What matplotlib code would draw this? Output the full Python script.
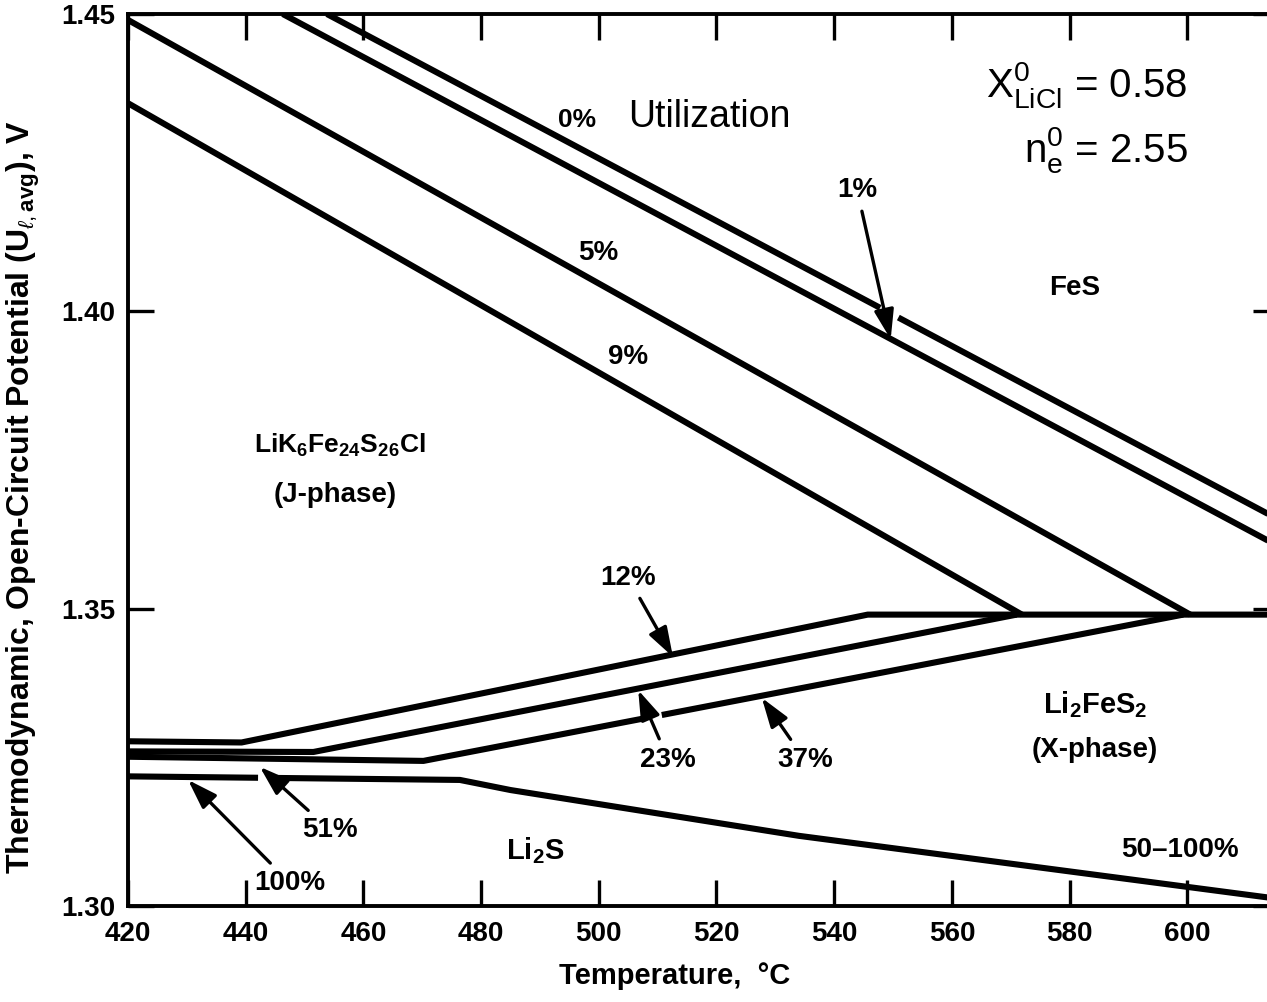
import numpy as np
import matplotlib
matplotlib.use('Agg')
import matplotlib.pyplot as plt
from matplotlib import font_manager

# ---------------- data ----------------
T_u0 = [453.8, 615.5];  V_u0 = [1.4500, 1.3650]
T_u1 = [446.3, 615.5];  V_u1 = [1.4500, 1.3605]
T_u5 = [420.0, 600.5];  V_u5 = [1.4490, 1.3490]
T_u9 = [420.0, 571.9];  V_u9 = [1.4350, 1.3490]
T_u12 = [420.0, 439.3, 545.7, 615.5]; V_u12 = [1.3277, 1.3275, 1.3490, 1.3490]
T_u23 = [420.0, 451.5, 571.0];        V_u23 = [1.3260, 1.3259, 1.3490]
T_u37 = [420.0, 470.2, 599.3];        V_u37 = [1.3251, 1.3244, 1.3490]
T_u100 = [420.0, 476.4, 485.0, 534.0, 615.5]
V_u100 = [1.3218, 1.3212, 1.3195, 1.3118, 1.3012]

x_ticks = [420, 440, 460, 480, 500, 520, 540, 560, 580, 600]
y_ticks = [1.30, 1.35, 1.40, 1.45]
y_ticklabels = ['1.30', '1.35', '1.40', '1.45']

# ---------------- fonts ----------------
def has_font(name):
    try:
        font_manager.findfont(name, fallback_to_default=False)
        return True
    except Exception:
        return False

FONT = 'Liberation Sans Narrow' if has_font('Liberation Sans Narrow') else 'Liberation Sans'
plt.rcParams['font.family'] = [FONT, 'DejaVu Sans']
plt.rcParams['mathtext.fontset'] = 'custom'
plt.rcParams['mathtext.rm'] = FONT
plt.rcParams['mathtext.it'] = FONT + ':italic'
plt.rcParams['mathtext.bf'] = FONT + ':bold'

W, H = 1267, 1002
fig = plt.figure(figsize=(W / 100, H / 100), dpi=100)
left_px, right_px, top_px, bot_px = 128, 1278.5, 14, 906
ax = fig.add_axes([left_px / W, 1 - bot_px / H, (right_px - left_px) / W, (bot_px - top_px) / H])
ax.set_xlim(420, 615.5)
ax.set_ylim(1.30, 1.45)

LW = 4.4
lines = [(T_u0, V_u0), (T_u1, V_u1), (T_u5, V_u5), (T_u9, V_u9),
         (T_u12, V_u12), (T_u23, V_u23), (T_u37, V_u37), (T_u100, V_u100)]
for T, V in lines:
    ax.plot(T, V, color='black', lw=LW, solid_capstyle='butt', zorder=3)

# small breaks where the arrows cross lines
for (T, V), (t0, t1) in [((T_u0, V_u0), (547.8, 550.9)),
                         ((T_u37, V_u37), (507.5, 510.7)),
                         ((T_u100, V_u100), (442.1, 445.3))]:
    tt = np.array([t0, t1])
    ax.plot(tt, np.interp(tt, T, V), color='white', lw=LW + 2.5,
            solid_capstyle='butt', zorder=4)

# axes styling
for s in ax.spines.values():
    s.set_linewidth(2.8)
ax.set_xticks(x_ticks)
ax.set_xticklabels([str(v) for v in x_ticks], fontweight='bold')
ax.set_yticks(y_ticks)
ax.set_yticklabels(y_ticklabels, fontweight='bold')
ax.tick_params(axis='both', direction='in', length=19, width=2.4,
               top=True, right=True, labelsize=20, pad=9)
ax.tick_params(axis='x', pad=11)

ax.set_xlabel('Temperature,  °C', fontsize=21, fontweight='bold')
ax.xaxis.set_label_coords((675 - left_px) / (right_px - left_px), -(962 - bot_px) / (bot_px - top_px))
ax.set_ylabel(r'Thermodynamic, Open-Circuit Potential (U$_{\ell,\mathbf{avg}}$), V',
              fontsize=23, fontweight='bold')
ax.yaxis.set_label_coords(-(128 - 42) / (right_px - left_px), (bot_px - 497) / (bot_px - top_px))

# text labels
B = dict(color='black', zorder=6, ha='center', va='center', fontweight='bold')
ax.text(496.3, 1.4322, '0%', fontsize=19, **B)
ax.text(505.0, 1.4327, 'Utilization', fontsize=27, ha='left', va='center', zorder=6)
ax.text(499.9, 1.4098, '5%', fontsize=20, **B)
ax.text(505.0, 1.3923, '9%', fontsize=20, **B)
ax.text(580.9, 1.4039, 'FeS', fontsize=20, **B)
ax.text(456.0, 1.3775, r'LiK$_\mathbf{6}$Fe$_\mathbf{24}$S$_\mathbf{26}$Cl', fontsize=19, **B)
ax.text(455.2, 1.3691, '(J-phase)', fontsize=20, **B)
ax.text(584.3, 1.3338, r'Li$_\mathbf{2}$FeS$_\mathbf{2}$', fontsize=21, **B)
ax.text(584.3, 1.3262, '(X-phase)', fontsize=20, **B)
ax.text(489.2, 1.3094, r'Li$_\mathbf{2}$S', fontsize=21, **B)
ax.text(598.8, 1.3094, '50–100%', fontsize=20, **B)
ax.text(582.9, 1.4381, r'X$^{0}_{\mathrm{LiCl}}$ = 0.58', fontsize=29, ha='center', va='center', zorder=6)
ax.text(586.2, 1.4271, r'n$^{0}_{\mathrm{e}}$ = 2.55', fontsize=29, ha='center', va='center', zorder=6)

ARROW = dict(arrowstyle='-|>,head_length=0.9,head_width=0.3', color='black', lw=2.4,
             shrinkA=4, shrinkB=0)
annots = [('1%', (549.6, 1.3953), (543.9, 1.4204)),
          ('12%', (512.6, 1.3419), (505.0, 1.3552)),
          ('23%', (506.7, 1.3363), (511.8, 1.3246)),
          ('37%', (527.7, 1.3350), (535.0, 1.3246)),
          ('51%', (442.4, 1.3234), (454.3, 1.3128)),
          ('100%', (430.2, 1.3212), (447.5, 1.3039))]
for lab, tip, pos in annots:
    ax.annotate(lab, xy=tip, xytext=pos, fontsize=20, fontweight='bold',
                ha='center', va='center', arrowprops=ARROW, zorder=6)

fig.savefig('out.png', dpi=100)
